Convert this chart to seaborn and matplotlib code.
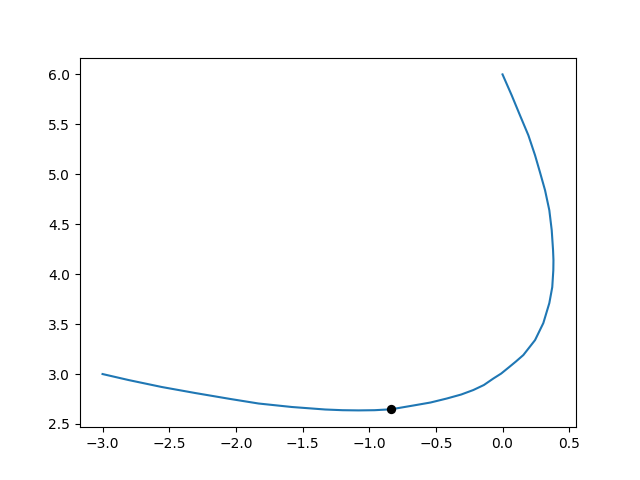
import numpy as np
import pandas as pd
import matplotlib
matplotlib.use("Agg")
import matplotlib.pyplot as plt
import seaborn as sns

# curve points, in drawing order
curve_x = [0.0, 0.069, 0.131, 0.194, 0.244, 0.281, 0.319, 0.351, 0.369, 0.379,
           0.382, 0.381, 0.373, 0.351, 0.306, 0.244, 0.156, 0.1, 0.05, -0.01,
           -0.069, -0.14, -0.219, -0.31, -0.418, -0.54, -0.669, -0.836,
           -0.96, -1.08, -1.2, -1.33, -1.58, -1.83, -2.04, -2.305, -2.555,
           -2.805, -3.0]
curve_y = [6.0, 5.79, 5.59, 5.39, 5.19, 5.02, 4.84, 4.64, 4.44, 4.24,
           4.14, 4.04, 3.87, 3.71, 3.51, 3.34, 3.19, 3.125, 3.07, 3.005,
           2.955, 2.89, 2.84, 2.795, 2.755, 2.715, 2.685, 2.647,
           2.638, 2.636, 2.638, 2.645, 2.67, 2.705, 2.75, 2.81, 2.87,
           2.94, 3.0]

point_x = [-0.836]
point_y = [2.647]

df_curve = pd.DataFrame({"x": curve_x, "y": curve_y})
df_point = pd.DataFrame({"x": point_x, "y": point_y})

fig, ax = plt.subplots(figsize=(6.4, 4.8), dpi=100)

sns.lineplot(data=df_curve, x="x", y="y", sort=False, estimator=None,
             color="#1f77b4", linewidth=1.5, ax=ax)
sns.scatterplot(data=df_point, x="x", y="y", color="black", s=45,
                linewidth=0, ax=ax, zorder=3)

ax.set_xlabel("")
ax.set_ylabel("")

plt.savefig("out.png")
